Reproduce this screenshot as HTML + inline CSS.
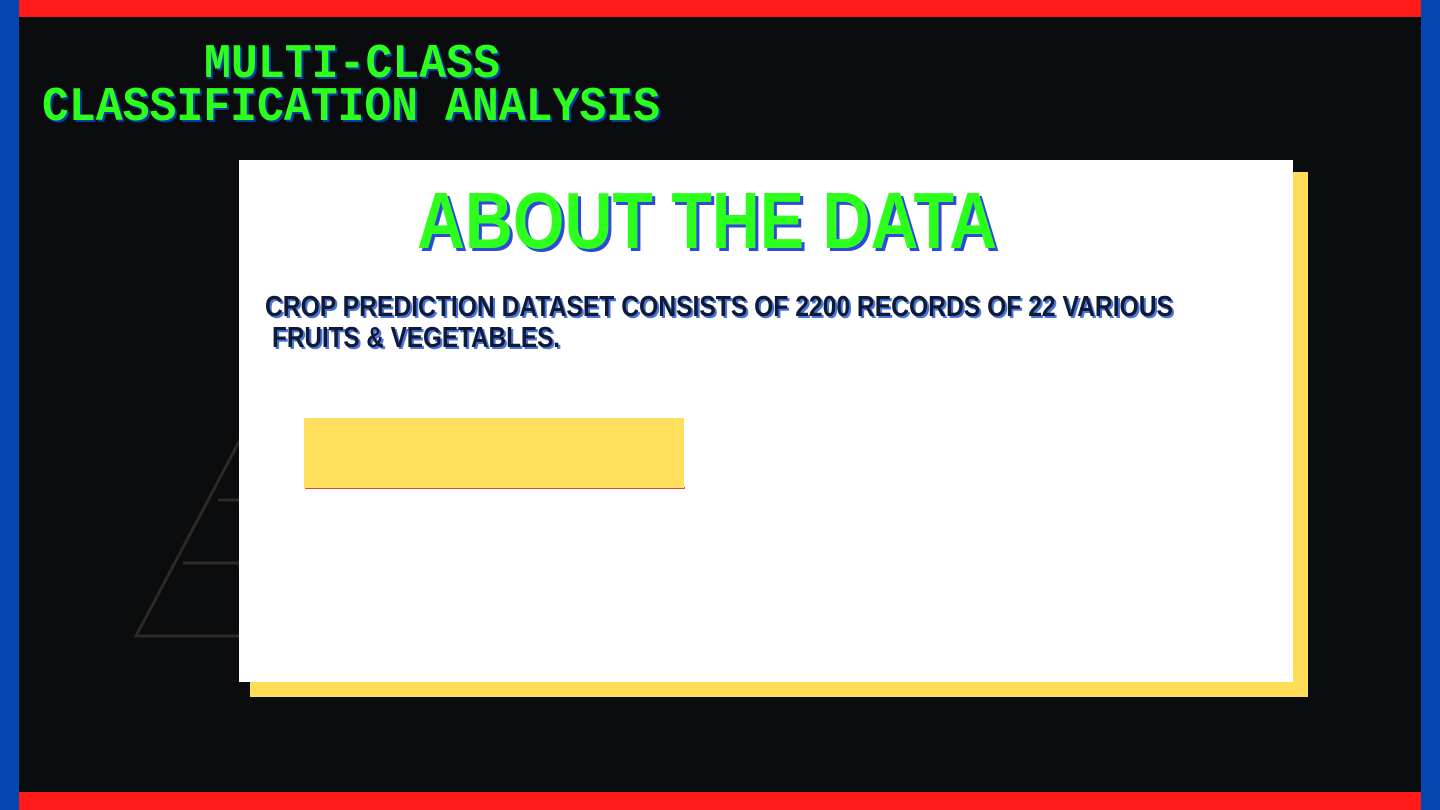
<!DOCTYPE html>
<html><head><meta charset="utf-8"><style>
html,body{margin:0;padding:0;width:1440px;height:810px;overflow:hidden;background:#0a0c0e}
svg{display:block}
</style></head><body>
<svg width="1440" height="810" xmlns="http://www.w3.org/2000/svg">
<rect x="0" y="0" width="1440" height="810" fill="#0a0c0e"/>
<rect x="19" y="0" width="1402" height="17" fill="#ff1a1a"/>
<rect x="19" y="792" width="1402" height="18" fill="#ff1a1a"/>
<rect x="0" y="0" width="19" height="810" fill="#0547b0"/>
<rect x="1421" y="0" width="19" height="810" fill="#0547b0"/>
<g fill="none" stroke="#2a2a28" stroke-width="3">
<polyline points="240,440 136,636 240,636"/>
<line x1="218" y1="500" x2="240" y2="500"/>
<line x1="183" y1="563" x2="240" y2="563"/>
</g>
<g font-family="'Liberation Mono', monospace" font-size="48" font-weight="bold">
<text x="204" y="77" textLength="296" lengthAdjust="spacingAndGlyphs" fill="#0b3aa8" transform="translate(2,2)">MULTI-CLASS</text>
<text x="204" y="77" textLength="296" lengthAdjust="spacingAndGlyphs" fill="#2cff1c">MULTI-CLASS</text>
<text x="42" y="120" textLength="618" lengthAdjust="spacingAndGlyphs" fill="#0b3aa8" transform="translate(2,2)">CLASSIFICATION ANALYSIS</text>
<text x="42" y="120" textLength="618" lengthAdjust="spacingAndGlyphs" fill="#2cff1c">CLASSIFICATION ANALYSIS</text>
</g>
<rect x="250" y="172" width="1058" height="525" fill="#ffdd57"/>
<rect x="239" y="160" width="1054" height="522" fill="#ffffff"/>
<g font-family="'Liberation Sans Narrow','Liberation Sans',sans-serif" font-weight="bold">
<text x="417" y="248" font-size="80" textLength="580" lengthAdjust="spacingAndGlyphs" fill="#2b4bd8" transform="translate(3,3)">ABOUT THE DATA</text>
<text x="417" y="248" font-size="80" textLength="580" lengthAdjust="spacingAndGlyphs" fill="#2cff1c">ABOUT THE DATA</text>
</g>
<g font-family="'Liberation Sans Narrow','Liberation Sans',sans-serif" font-weight="bold" font-size="29">
<text x="265" y="316" textLength="908" lengthAdjust="spacingAndGlyphs" fill="#4a74e0" transform="translate(2,2)">CROP PREDICTION DATASET CONSISTS OF 2200 RECORDS OF 22 VARIOUS</text>
<text x="265" y="316" textLength="908" lengthAdjust="spacingAndGlyphs" fill="#101a33">CROP PREDICTION DATASET CONSISTS OF 2200 RECORDS OF 22 VARIOUS</text>
<text x="272" y="347" textLength="288" lengthAdjust="spacingAndGlyphs" fill="#4a74e0" transform="translate(2,2)">FRUITS &amp; VEGETABLES.</text>
<text x="272" y="347" textLength="288" lengthAdjust="spacingAndGlyphs" fill="#101a33">FRUITS &amp; VEGETABLES.</text>
</g>
<rect x="305" y="487" width="380" height="2" fill="#e04a3a"/>
<rect x="304" y="418" width="380" height="70" fill="#ffdf5c"/>
</svg>
</body></html>
